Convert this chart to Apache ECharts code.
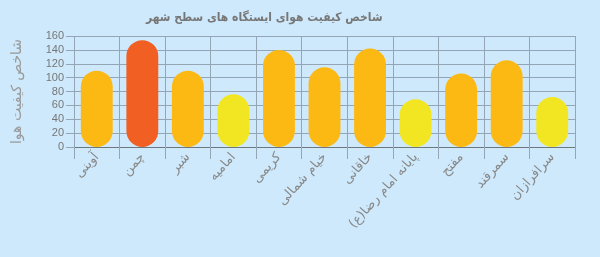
<!DOCTYPE html>
<html><head><meta charset="utf-8">
<script src="https://cdn.jsdelivr.net/npm/echarts@6/dist/echarts.min.js"></script>
<style>html,body{margin:0;padding:0;background:#cde9fb}#c{width:600px;height:257px}</style>
</head><body><div id="c"></div>
<script>
const categories = ['آوینی','چمن','شبر','امامیه','کریمی','خیام شمالی','خاقانی','پایانه امام رضا(ع)','مفتح','سمرقند','سرافرازان'];
const values = [110, 154, 110, 76, 140, 115, 142, 69, 106, 125, 72];
const yTicks = [0, 20, 40, 60, 80, 100, 120, 140, 160];
const titleText = 'شاخص کیفیت هوای ایستگاه های سطح شهر';
const yName = 'شاخص کیفیت هوا';

function colorFor(v){ if (v > 150) return '#f15f22'; if (v >= 100) return '#fdb913'; return '#f2e622'; }
const font = 'DejaVu Sans';
const chart = echarts.init(document.getElementById('c'), null, {renderer:'canvas'});
chart.setOption({
  backgroundColor: '#cde9fb',
  animation: false,
  title: { text: titleText, left: 141, top: 7, textStyle: { fontFamily: 'DejaVu Sans Condensed', fontSize: 12, fontWeight: 'bold', color: '#777' } },
  grid: { left: 74, right: 25, top: 36, bottom: 110, containLabel: false },
  xAxis: {
    type: 'category', data: categories,
    axisLine: { show: true, lineStyle: { color: '#6d7780', width: 1 } },
    axisTick: { show: true, length: 12, lineStyle: { color: '#94a6b6' } },
    splitLine: { show: true, lineStyle: { color: '#94a6b6', width: 1 } },
    axisLabel: { interval: 0, rotate: 48, margin: 8, fontFamily: font, fontSize: 13, color: '#888' }
  },
  yAxis: {
    type: 'value', min: yTicks[0], max: yTicks[yTicks.length-1], interval: 20,
    name: yName, nameLocation: 'middle', nameGap: 50, nameRotate: 90,
    nameTextStyle: { fontFamily: font, fontSize: 14, color: '#999' },
    axisLine: { show: false },
    axisTick: { show: true, length: 8, lineStyle: { color: '#94a6b6' } },
    splitLine: { show: true, lineStyle: { color: '#94a6b6', width: 1 } },
    axisLabel: { margin: 10, fontFamily: 'Liberation Sans', fontSize: 11, color: '#777' }
  },
  series: [{
    type: 'bar', barWidth: '70%',
    data: values.map(v => ({ value: v, itemStyle: { color: colorFor(v), borderRadius: 16 } }))
  }]
});
</script></body></html>
